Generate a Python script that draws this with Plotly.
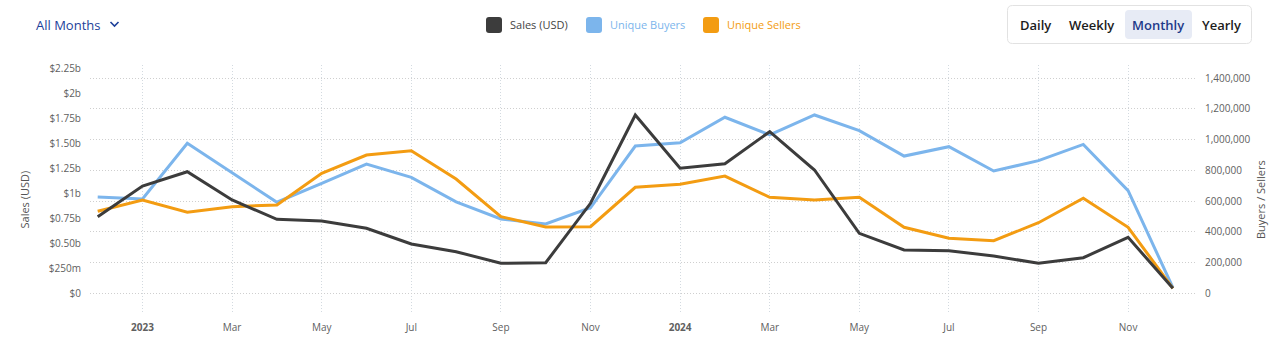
import plotly.graph_objects as go

# ---------------- data ----------------
months = ["Dec 2022", "Jan 2023", "Feb 2023", "Mar 2023", "Apr 2023", "May 2023", "Jun 2023",
          "Jul 2023", "Aug 2023", "Sep 2023", "Oct 2023", "Nov 2023", "Dec 2023",
          "Jan 2024", "Feb 2024", "Mar 2024", "Apr 2024", "May 2024", "Jun 2024",
          "Jul 2024", "Aug 2024", "Sep 2024", "Oct 2024", "Nov 2024", "Dec 2024"]

sales_usd_b = [0.768, 1.075, 1.218, 0.935, 0.742, 0.725, 0.652, 0.495, 0.418, 0.302, 0.308, 0.902,
               1.785, 1.252, 1.298, 1.618, 1.235, 0.602, 0.435, 0.428, 0.375, 0.302, 0.358, 0.562, 0.052]

unique_buyers_k = [627, 614, 976, 785, 593, 716, 841, 755, 596, 484, 452, 557,
                   958, 980, 1145, 1030, 1160, 1058, 893, 954, 796, 863, 969, 668, 38]

unique_sellers_k = [534, 608, 528, 564, 575, 781, 900, 928, 744, 499, 432, 434,
                    690, 710, 763, 625, 608, 625, 430, 359, 343, 460, 619, 430, 34]

x_tick_months = ["Jan 2023", "Mar 2023", "May 2023", "Jul 2023", "Sep 2023", "Nov 2023",
                 "Jan 2024", "Mar 2024", "May 2024", "Jul 2024", "Sep 2024", "Nov 2024"]
x_tick_labels = ["<b>2023</b>", "Mar", "May", "Jul", "Sep", "Nov",
                 "<b>2024</b>", "Mar", "May", "Jul", "Sep", "Nov"]

sales_tick_vals_b = [0, 0.25, 0.5, 0.75, 1.0, 1.25, 1.5, 1.75, 2.0, 2.25]
sales_tick_labels = ["$0", "$250m", "$0.50b", "$0.75b", "$1b", "$1.25b", "$1.50b", "$1.75b", "$2b", "$2.25b"]

count_tick_vals = [0, 200000, 400000, 600000, 800000, 1000000, 1200000, 1400000]

legend_names = ["Sales (USD)", "Unique Buyers", "Unique Sellers"]
buttons = ["Daily", "Weekly", "Monthly", "Yearly"]

# ---------------- styles ----------------
C_BLACK = "#3c3c3c"
C_BLUE = "#7cb5ec"
C_ORANGE = "#f39c12"
FONT = "Open Sans, Noto Sans, sans-serif"
W, H = 1280, 345
ML, MR, MT, MB = 90, 83, 65, 32
PW, PH = W - ML - MR, H - MT - MB

xi = list(range(len(months)))
tick_idx = [months.index(m) for m in x_tick_months]

fig = go.Figure()
# buyers / sellers on the base (right) axis
fig.add_trace(go.Scatter(x=xi, y=[v * 1000 for v in unique_buyers_k], name=legend_names[1],
                         mode="lines", line=dict(color=C_BLUE, width=3), yaxis="y"))
fig.add_trace(go.Scatter(x=xi, y=[v * 1000 for v in unique_sellers_k], name=legend_names[2],
                         mode="lines", line=dict(color=C_ORANGE, width=3), yaxis="y"))
# sales on the overlay (left) axis
fig.add_trace(go.Scatter(x=xi, y=[v * 1e9 for v in sales_usd_b], name=legend_names[0],
                         mode="lines", line=dict(color=C_BLACK, width=3), yaxis="y2"))

px_per_month = 44.8
first_tick_px = 142.5
x0 = tick_idx[0] - (first_tick_px - ML) / px_per_month
x1 = x0 + PW / px_per_month

zero_py = 293.5
sales_px_per_b = 100.0
count_px_per_unit = 153.9 / 1e6

def px_x(p):
    return (p - ML) / PW

def px_y(p):
    return (H - MB - p) / PH

def rrect(a, b, c, d, r):
    X0, X1 = px_x(a), px_x(c)
    Y0, Y1 = px_y(b), px_y(d)
    rx, ry = r / PW, r / PH
    return (f"M {X0+rx} {Y0} L {X1-rx} {Y0} Q {X1} {Y0} {X1} {Y0-ry} "
            f"L {X1} {Y1+ry} Q {X1} {Y1} {X1-rx} {Y1} L {X0+rx} {Y1} "
            f"Q {X0} {Y1} {X0} {Y1+ry} L {X0} {Y0-ry} Q {X0} {Y0} {X0+rx} {Y0} Z")

shapes = []
annotations = []

# legend
leg = [(486, C_BLACK, "#444444"), (586, C_BLUE, C_BLUE), (703, C_ORANGE, C_ORANGE)]
for (lx, sc, tc), name in zip(leg, legend_names):
    shapes.append(dict(type="path", xref="paper", yref="paper", path=rrect(lx, 17, lx + 16, 33, 3),
                       fillcolor=sc, line=dict(width=0)))
    annotations.append(dict(xref="paper", yref="paper", x=px_x(lx + 22), y=px_y(25), xanchor="left",
                            yanchor="middle", text=name, showarrow=False,
                            font=dict(family=FONT, size=11, color=tc)))

# All Months dropdown
annotations.append(dict(xref="paper", yref="paper", x=px_x(34), y=px_y(25), xanchor="left", yanchor="middle",
                        text="All Months", showarrow=False,
                        font=dict(family=FONT, size=13, color="#1d3f9a", weight=500)))
shapes.append(dict(type="path", xref="paper", yref="paper",
                   path=f"M {px_x(110.5)} {px_y(22)} L {px_x(114.5)} {px_y(26)} L {px_x(118.5)} {px_y(22)}",
                   line=dict(color="#1d3f9a", width=1.6)))

# buttons
shapes.append(dict(type="path", xref="paper", yref="paper", path=rrect(1007.5, 5.5, 1251.5, 43.5, 5),
                   fillcolor="white", line=dict(color="#e2e2e2", width=1)))
shapes.append(dict(type="path", xref="paper", yref="paper", path=rrect(1125, 10, 1192, 39, 4),
                   fillcolor="#e7ebf5", line=dict(width=0)))
btn_centers = [1035.7, 1091.7, 1158.3, 1221.3]
for bx, bt in zip(btn_centers, buttons):
    col = "#1e3a8a" if bt == "Monthly" else "#1c1c1c"
    annotations.append(dict(xref="paper", yref="paper", x=px_x(bx), y=px_y(25), xanchor="center",
                            yanchor="middle", text=bt, showarrow=False,
                            font=dict(family=FONT, size=13, color=col, weight=600)))

# axis titles
annotations.append(dict(xref="paper", yref="paper", x=px_x(23.5), y=px_y(200), textangle=-90,
                        text="Sales (USD)", showarrow=False, xanchor="center", yanchor="middle",
                        font=dict(family=FONT, size=11, color="#555555")))
annotations.append(dict(xref="paper", yref="paper", x=px_x(1260), y=px_y(200), textangle=-90,
                        text="Buyers / Sellers", showarrow=False, xanchor="center", yanchor="middle",
                        font=dict(family=FONT, size=11, color="#555555")))

TICKFONT = dict(family=FONT, size=10, color="#606060")

fig.update_layout(
    width=W, height=H,
    margin=dict(l=ML, r=MR, t=MT, b=MB, pad=0),
    paper_bgcolor="white", plot_bgcolor="white",
    showlegend=False,
    font=dict(family=FONT, size=10, color="#666666"),
    shapes=shapes, annotations=annotations,
    xaxis=dict(range=[x0, x1], tickmode="array", tickvals=tick_idx, ticktext=x_tick_labels,
               showgrid=True, griddash="1px,2px", gridcolor="#d3dae0", gridwidth=1,
               zeroline=False, showline=False, ticks="", ticklabelstandoff=7,
               tickfont=TICKFONT),
    yaxis=dict(side="right",
               range=[(zero_py - (H - MB)) / count_px_per_unit, (zero_py - MT) / count_px_per_unit],
               tickmode="array", tickvals=count_tick_vals, tickformat=",d",
               showgrid=True, griddash="1px,2px", gridcolor="#cfcfcf", gridwidth=1,
               zeroline=False, showline=False, ticks="", ticklabelstandoff=7,
               tickfont=TICKFONT),
    yaxis2=dict(side="left", overlaying="y",
                range=[(zero_py - (H - MB)) / sales_px_per_b * 1e9, (zero_py - MT) / sales_px_per_b * 1e9],
                tickmode="array", tickvals=[v * 1e9 for v in sales_tick_vals_b], ticktext=sales_tick_labels,
                showgrid=False, zeroline=False, showline=False, ticks="", ticklabelstandoff=8,
                tickfont=TICKFONT),
)

fig.write_html("out.html")
